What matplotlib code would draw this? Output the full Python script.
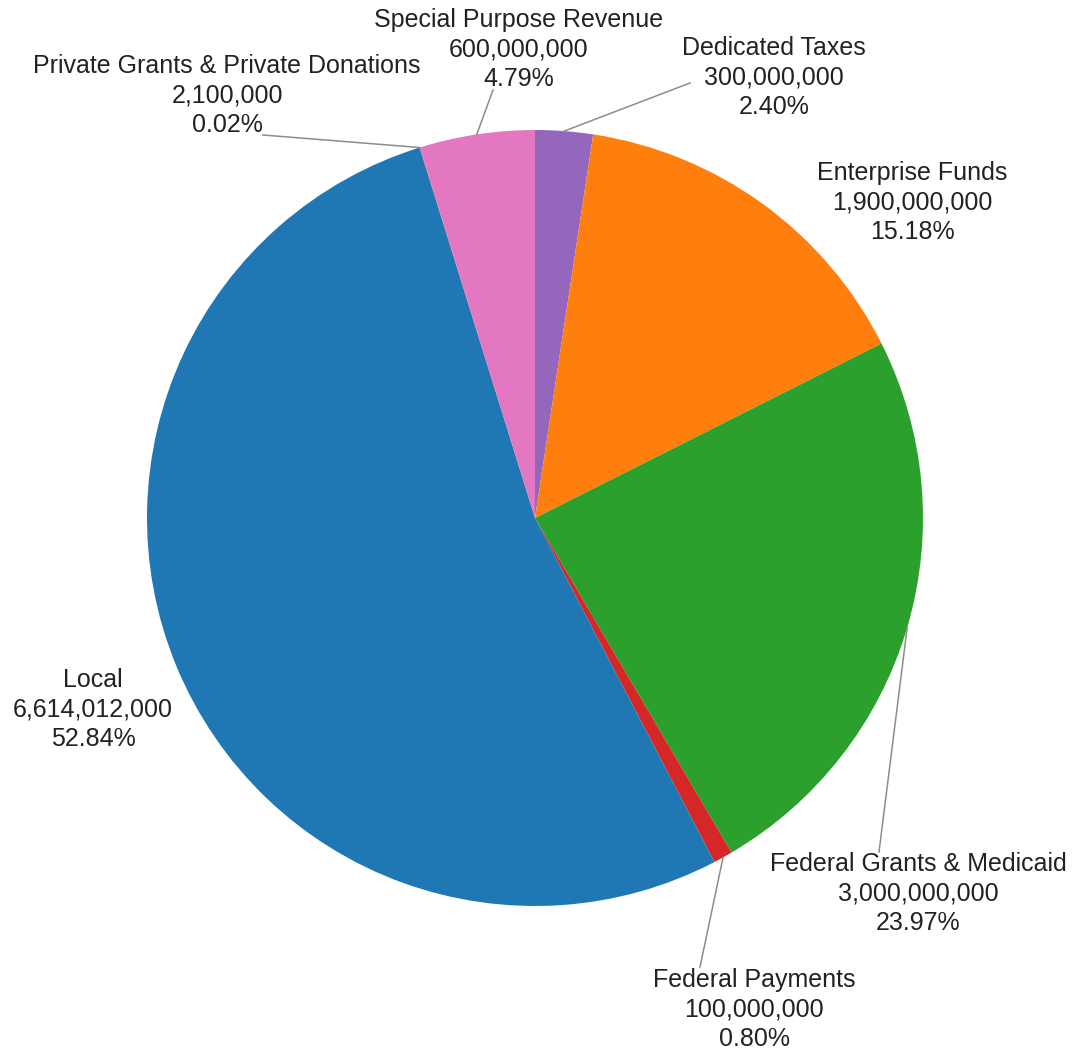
import numpy as np
import matplotlib
matplotlib.use("Agg")
import matplotlib.pyplot as plt

plt.rcParams['font.family'] = ['Liberation Sans', 'DejaVu Sans']

# slices, clockwise from 12 o'clock
names = ['Dedicated Taxes', 'Enterprise Funds', 'Federal Grants & Medicaid',
         'Federal Payments', 'Local', 'Private Grants & Private Donations',
         'Special Purpose Revenue']
values = [300000000, 1900000000, 3000000000, 100000000, 6614012000,
          2100000, 600000000]
colors = ['#9467bd', '#ff7f0e', '#2ca02c', '#d62728', '#1f77b4',
          '#8c564b', '#e377c2']

# label layout in pixels: (centre x, first baseline y, leader end or None)
W, H = 1086, 1050
cx, cy, R = 535, 518, 388
label_pos = {
    'Dedicated Taxes': (774, 55, (690, 83)),
    'Enterprise Funds': (912, 180, None),
    'Federal Grants & Medicaid': (918, 871, (879, 852)),
    'Federal Payments': (754, 987, (700, 967)),
    'Local': (93, 687, None),
    'Private Grants & Private Donations': (227, 73, (263, 135)),
    'Special Purpose Revenue': (519, 27, (493, 90)),
}
line_gap = 29.3


def to_data(px, py):
    return (px - cx) / R, (cy - py) / R


fig = plt.figure(figsize=(W / 100, H / 100), dpi=100)
ax = fig.add_axes([0, 0, 1, 1])
wedges, _ = ax.pie(values, colors=colors, startangle=90, counterclock=False,
                   radius=1, center=(0, 0), frame=False,
                   wedgeprops=dict(linewidth=0))
ax.set_xlim(-cx / R, (W - cx) / R)
ax.set_ylim(-(H - cy) / R, cy / R)
ax.set_aspect('equal')
ax.axis('off')

total = sum(values)
for w, name, v in zip(wedges, names, values):
    lx, ly, lead = label_pos[name]
    lines = [name, f'{v:,}', f'{v / total * 100:.2f}%']
    for i, t in enumerate(lines):
        x, y = to_data(lx, ly + i * line_gap)
        ax.text(x, y, t, ha='center', va='baseline', fontsize=18,
                color='#222222')
    if lead is not None:
        mid = np.deg2rad((w.theta1 + w.theta2) / 2)
        sx, sy = np.cos(mid), np.sin(mid)
        ex, ey = to_data(*lead)
        ax.plot([sx, ex], [sy, ey], color='#8c8c8c', linewidth=1.1)

fig.savefig('out.png', dpi=100)
